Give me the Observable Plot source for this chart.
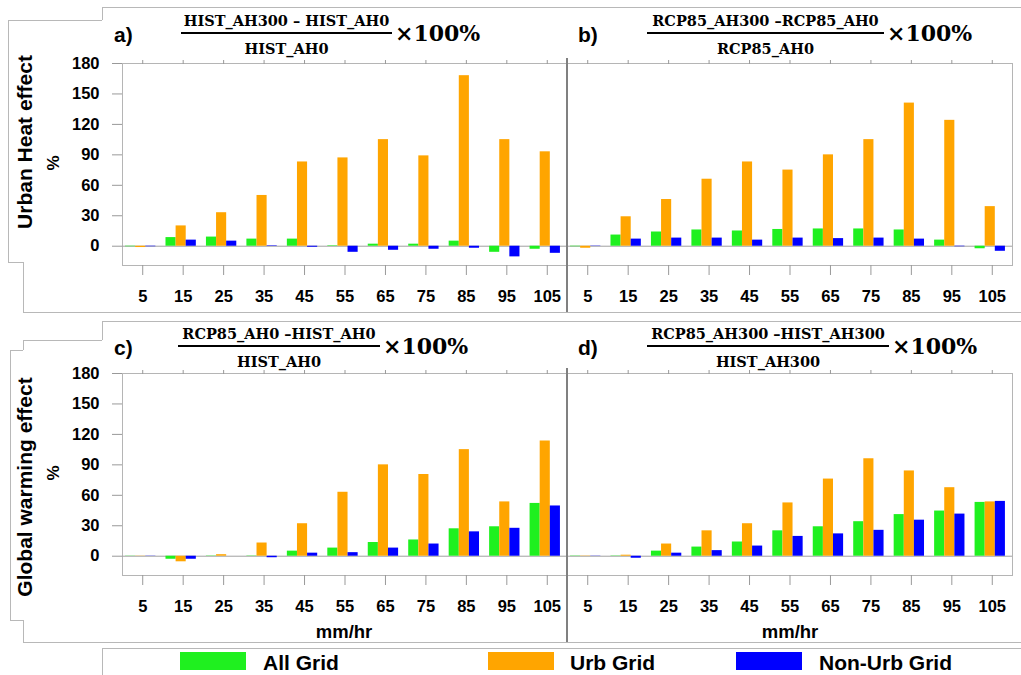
<!DOCTYPE html>
<html><head><meta charset="utf-8">
<script src="https://cdn.jsdelivr.net/npm/d3@7"></script>
<script src="https://cdn.jsdelivr.net/npm/@observablehq/plot@0.6"></script>
<style>
body{margin:0;background:#fff;}
#wrap{position:relative;width:1021px;height:675px;overflow:hidden;font-family:"Liberation Sans",Arial,sans-serif;color:#000;}
#wrap div{position:absolute;white-space:nowrap;line-height:1;}
#wrap svg{position:absolute;overflow:visible;}
</style></head><body><div id="wrap"></div>
<script>
// ---------- data ----------
const bins = [5, 15, 25, 35, 45, 55, 65, 75, 85, 95, 105];
const seriesNames = ["All Grid", "Urb Grid", "Non-Urb Grid"];
const seriesColors = ["#1ff01f", "#ffa500", "#0000ff"];
const yTicks = [0, 30, 60, 90, 120, 150, 180];

// a) Urban heat effect, historical
const aAll = [-0.5, 8.5, 9, 7, 7, 0.5, 2, 2, 5, -6, -3];
const aUrb = [-1.3, 20, 33, 50, 83, 87, 105, 89, 168, 105, 93];
const aNon = [-0.5, 6, 5, 0.5, -1, -6, -4, -3, -2, -10.5, -7];
// b) Urban heat effect, RCP8.5
const bAll = [-0.5, 11, 14, 16, 15, 16.5, 17, 17, 16, 6, -2.5];
const bUrb = [-2, 29, 46, 66, 83, 75, 90, 105, 141, 124, 39];
const bNon = [-0.3, 7, 8, 8, 6, 8, 7.5, 8, 7, -0.5, -5];
// c) Global warming effect, AH0
const cAll = [0.2, -3, 0.3, 0.3, 5, 8, 13.5, 16, 27, 29, 52];
const cUrb = [0.2, -5.5, 1.5, 13, 32, 63, 90, 80.5, 105, 53.5, 113.5];
const cNon = [0.2, -3, 0, -1.5, 3, 3.5, 8, 12, 24, 27.5, 49.5];
// d) Global warming effect, AH300
const dAll = [-0.3, 0.3, 5, 9, 14, 25, 29, 34, 41, 44.5, 53];
const dUrb = [-0.3, 1, 12, 25, 32, 52.5, 76, 96, 84, 67.5, 53.5];
const dNon = [-0.2, -2, 3, 5.5, 10, 19.5, 22, 25.5, 35.5, 41.5, 54];

const wrap = document.getElementById("wrap");

function makePanel(all, urb, non, o) {
  const rows = [];
  [all, urb, non].forEach((arr, k) => {
    bins.forEach((b, i) => rows.push({bin: b, series: seriesNames[k], k, value: arr[i]}));
  });
  const bw = 2.5, shift = -0.5;
  const svg = Plot.plot({
    width: o.width, height: o.height,
    marginLeft: o.ml, marginRight: o.mr, marginTop: 63, marginBottom: o.height - 265,
    style: {fontFamily: '"Liberation Sans", Arial, sans-serif', fontSize: "16.5px", fontWeight: "bold", background: "transparent", overflow: "visible"},
    x: {domain: [0, 110]},
    y: {domain: [-19, 180], axis: o.showY ? undefined : null},
    color: {domain: seriesNames, range: seriesColors},
    marks: [
      Plot.frame({stroke: "#b5b5b5"}),
      Plot.ruleY([0], {stroke: "#a0a0a0"}),
      Plot.rectY(rows, {
        x1: d => d.bin + shift + (d.k - 1) * bw - bw / 2,
        x2: d => d.bin + shift + (d.k - 1) * bw + bw / 2,
        y: "value", fill: "series"
      }),
      Plot.axisX({ticks: bins, tickSize: 10, tickPadding: 15, label: null, stroke: "#999", tickFormat: d => String(d)}),
      Plot.axisX({anchor: "top", ticks: bins, tickSize: 4, label: null, stroke: "#999", tickFormat: () => ""}),
      o.showY ? Plot.axisY({ticks: yTicks, tickSize: 10, tickPadding: 13, label: null, stroke: "#999", tickFormat: d => String(d)}) : null
    ]
  });
  svg.style.left = o.left + "px";
  svg.style.top = o.top + "px";
  wrap.appendChild(svg);
}

makePanel(aAll, aUrb, aNon, {left: 0, top: 0, width: 567, height: 310, ml: 122, mr: 0, showY: true});
makePanel(bAll, bUrb, bNon, {left: 567, top: 0, width: 454, height: 310, ml: 0, mr: 9, showY: false});
makePanel(cAll, cUrb, cNon, {left: 0, top: 310, width: 567, height: 335, ml: 122, mr: 0, showY: true});
makePanel(dAll, dUrb, dNon, {left: 567, top: 310, width: 454, height: 335, ml: 0, mr: 9, showY: false});

// ---------- decorations ----------
function box(css) { const d = document.createElement("div"); Object.assign(d.style, css); wrap.appendChild(d); return d; }
function seg(x1, y1, x2, y2, color, w) {
  w = w || 1; color = color || "#b8b8b8";
  if (y1 === y2) box({left: x1 + "px", top: y1 + "px", width: (x2 - x1) + "px", height: w + "px", background: color});
  else box({left: x1 + "px", top: y1 + "px", width: w + "px", height: (y2 - y1) + "px", background: color});
}
function txt(s, cx, cy, css, anchor) {
  const d = box(Object.assign({left: cx + "px", top: cy + "px"}, css || {}));
  d.textContent = s;
  d.style.transform = (anchor === "left" ? "translate(0,-50%)" : "translate(-50%,-50%)") + (css && css.rot ? " rotate(-90deg)" : "");
  return d;
}

// stepped outlines
[[102,7,1021,7],[102,7,102,20],[8,20,102,20],[8,20,8,262],[8,262,23,262],[23,262,23,312],[23,312,1021,312],
 [102,321,1021,321],[102,321,102,340],[23,340,102,340],[23,340,23,350],[10,350,23,350],[10,350,10,620],[10,620,23,620],[23,620,23,642],[23,642,1021,642],
 [102,648,1021,648],[102,648,102,675]].forEach(s => seg(...s));
seg(566, 58, 566, 312, "#808080", 2);
seg(566, 368, 566, 642, "#808080", 2);

// panel titles
const serif = '"DejaVu Serif", "Liberation Serif", serif';
function title(letter, lx, num, den, x1, x2, yl) {
  txt(letter, lx, yl + 1, {fontSize: "21px", fontWeight: "bold"}, "left");
  txt(num, (x1 + x2) / 2, yl - 12, {fontFamily: serif, fontSize: "14.5px", fontWeight: "bold"});
  txt(den, (x1 + x2) / 2, yl + 16, {fontFamily: serif, fontSize: "14.5px", fontWeight: "bold"});
  seg(x1, yl - 1, x2, yl - 1, "#000", 2);
  txt("×100%", x2 + 3, yl, {fontFamily: serif, fontSize: "22px", fontWeight: "bold"}, "left");
}
title("a)", 114, "HIST_AH300 – HIST_AH0", "HIST_AH0", 181, 392, 33);
title("b)", 578, "RCP85_AH300 –RCP85_AH0", "RCP85_AH0", 647, 884, 33);
title("c)", 114, "RCP85_AH0 –HIST_AH0", "HIST_AH0", 178, 380, 346);
title("d)", 578, "RCP85_AH300 –HIST_AH300", "HIST_AH300", 647, 889, 346);

// row labels
txt("Urban Heat effect", 24, 142, {fontSize: "21px", fontWeight: "bold", rot: 1});
txt("Global warming effect", 24, 487, {fontSize: "21px", fontWeight: "bold", rot: 1});
txt("%", 53, 163, {fontSize: "17px", fontWeight: "bold", rot: 1});
txt("%", 53, 473, {fontSize: "17px", fontWeight: "bold", rot: 1});
txt("mm/hr", 344, 632, {fontSize: "18.5px", fontWeight: "bold"});
txt("mm/hr", 790, 632, {fontSize: "18.5px", fontWeight: "bold"});

// legend
const legX = [[180, 263], [488, 570], [736, 819]];
seriesNames.forEach((s, i) => {
  box({left: legX[i][0] + "px", top: "652px", width: "66px", height: "18px", background: seriesColors[i]});
  txt(s, legX[i][1], 662, {fontSize: "21px", fontWeight: "bold"}, "left");
});
</script></body></html>
